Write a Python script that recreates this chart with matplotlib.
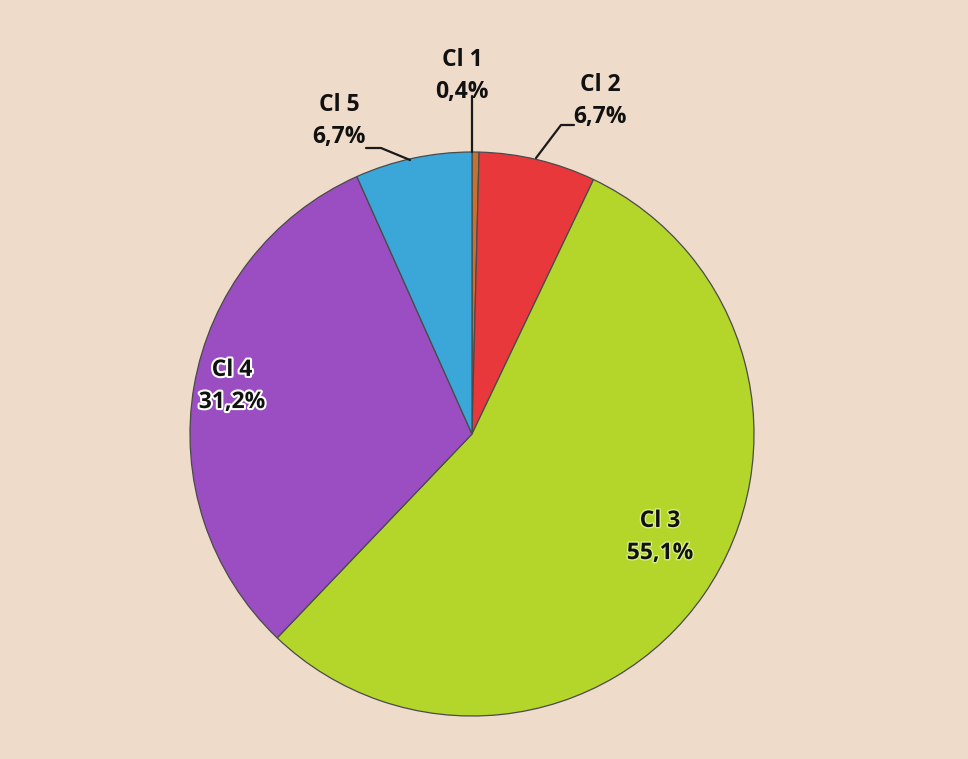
import matplotlib.pyplot as plt
import matplotlib.patheffects as pe

# data
labels = ["Cl 1", "Cl 2", "Cl 3", "Cl 4", "Cl 5"]
values = [0.4, 6.7, 55.1, 31.2, 6.7]
pct_text = ["0,4%", "6,7%", "55,1%", "31,2%", "6,7%"]
colors = ["#C8702E", "#E8383B", "#B4D62A", "#9A4EC2", "#3BA6D8"]

W, H = 968, 759
cx, cy, r = 472, 434, 282  # pie centre / radius in pixels

fig = plt.figure(figsize=(W / 100, H / 100), dpi=100)
fig.patch.set_facecolor("#EEDBC9")
ax = fig.add_axes([(cx - r) / W, (H - cy - r) / H, 2 * r / W, 2 * r / H])

wedges, _ = ax.pie(values, colors=colors, startangle=90, counterclock=False,
                   radius=1, wedgeprops=dict(edgecolor="#4a4a4a", linewidth=0.9))
# pie() sets its own limits, so override them afterwards
ax.set_xlim(-1, 1)
ax.set_ylim(-1, 1)
ax.set_aspect("equal")
ax.axis("off")


def px(x, y):
    # pixel position -> data coords of the pie axes
    return (x - cx) / r, (cy - y) / r


font = dict(fontsize=16.5, fontweight="bold", family=["Open Sans", "DejaVu Sans"],
            color="#111111", ha="center", va="center", linespacing=1.45)
glow = [pe.withStroke(linewidth=3, foreground="white")]

# label layout: text position, leader line points (pixels)
layout = {
    0: ((462, 76), [(472, 152), (472, 96)]),
    1: ((600, 101), [(536, 158), (561, 125), (574, 125)]),
    2: ((660, 537), None),
    3: ((232, 386), None),
    4: ((339, 121), [(410, 160), (381, 148), (366, 148)]),
}

for i, (lab, pct) in enumerate(zip(labels, pct_text)):
    (tx, ty), line = layout[i]
    t = ax.text(*px(tx, ty), f"{lab}\n{pct}", clip_on=False, **font)
    if line is None:
        t.set_path_effects(glow if i == 3 else
                           [pe.withStroke(linewidth=2, foreground="#D8EE80")])
    else:
        xs, ys = zip(*[px(a, b) for a, b in line])
        ax.plot(xs, ys, color="#1a1a1a", lw=1.6, solid_capstyle="round",
                clip_on=False)

fig.savefig("out.png", dpi=100, facecolor=fig.get_facecolor())
